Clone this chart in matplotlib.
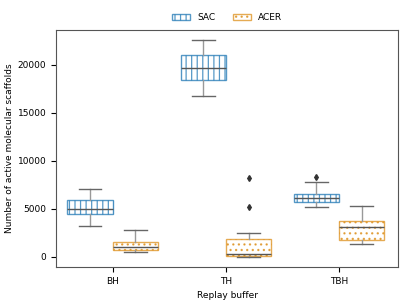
import matplotlib.pyplot as plt
import numpy as np

# Box statistics
buffers = ['BH', 'TH', 'TBH']
algos = ['SAC', 'ACER']
colors = {'SAC': '#1f77b4', 'ACER': '#dd8f1a'}
hatches = {'SAC': '|||', 'ACER': '...'}

sac_q1 = [4500, 18400, 5700]
sac_med = [4950, 19600, 6100]
sac_q3 = [5900, 21050, 6530]
sac_lo = [3200, 16750, 5200]
sac_hi = [7050, 22600, 7750]
sac_fliers = [[], [], [8350]]

acer_q1 = [700, 80, 1800]
acer_med = [1000, 300, 3100]
acer_q3 = [1550, 1850, 3720]
acer_lo = [520, 0, 1320]
acer_hi = [2750, 2450, 5300]
acer_fliers = [[], [5150, 8250], []]

plt.rcParams.update({'font.size': 6.5, 'hatch.linewidth': 0.9})
fig = plt.figure(figsize=(4.07, 3.05), dpi=100)
ax = fig.add_axes([0.1376, 0.1246, 0.8404, 0.777])

data = {
    'SAC': (sac_q1, sac_med, sac_q3, sac_lo, sac_hi, sac_fliers),
    'ACER': (acer_q1, acer_med, acer_q3, acer_lo, acer_hi, acer_fliers),
}
x = np.arange(len(buffers))
offsets = {'SAC': -0.2, 'ACER': 0.2}
handles = []
for algo in algos:
    q1, med, q3, lo, hi, fl = data[algo]
    stats = [dict(q1=q1[i], med=med[i], q3=q3[i], whislo=lo[i], whishi=hi[i],
                  fliers=fl[i]) for i in range(len(buffers))]
    c = colors[algo]
    bp = ax.bxp(stats, positions=x + offsets[algo], widths=0.4, patch_artist=True,
                showfliers=True,
                boxprops=dict(facecolor='white', edgecolor=c, alpha=0.75, linewidth=1.0),
                medianprops=dict(color='#555555', linewidth=1.0),
                whiskerprops=dict(color='#999999', linewidth=1.0),
                capprops=dict(color='#666666', linewidth=1.0),
                flierprops=dict(marker='d', markersize=3, markerfacecolor='#333333',
                                markeredgecolor='#333333'))
    for b in bp['boxes']:
        b.set_hatch(hatches[algo])
    handles.append(bp['boxes'][0])

ax.set_xticks(x)
ax.set_xticklabels(buffers)
ax.set_xlim(-0.5, 2.52)
ax.set_ylim(-1050, 23600)
ax.set_xlabel('Replay buffer')
ax.set_ylabel('Number of active molecular scaffolds')
ax.yaxis.set_label_coords(-0.123, 0.5)
for s in ax.spines.values():
    s.set_color('#555555')

ax.legend(handles, algos, loc='lower center', bbox_to_anchor=(0.5, 1.0), ncol=2,
          frameon=False, handlelength=2.0, columnspacing=1.9)

fig.savefig('out.png', dpi=100)
